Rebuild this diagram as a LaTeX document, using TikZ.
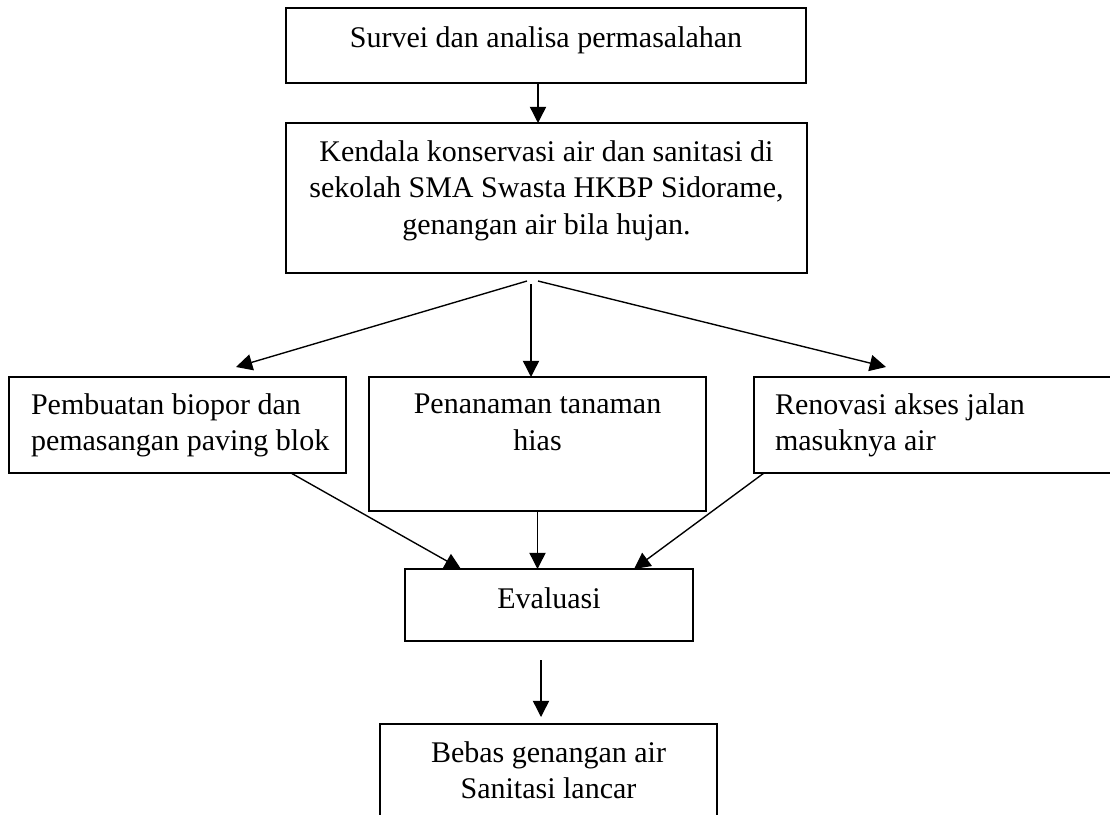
\documentclass[tikz,border=0pt]{standalone}
\usepackage{fontspec}
\setmainfont{Liberation Serif}
\usetikzlibrary{arrows.meta,calc}
\begin{document}
\begin{tikzpicture}[x=0.4pt,y=-0.4pt,
  box/.style={draw,line width=0.65pt,rectangle,inner sep=0pt,outer sep=0pt,anchor=north west},
  txt/.style={inner sep=0pt,outer sep=0pt,font=\fontsize{12}{14.6}\selectfont},
  arr/.style={line width=0.55pt,-{Triangle[length=6.5pt,width=6.5pt]}}]
\useasboundingbox (0,0) rectangle (1110,814);
\clip (0,0) rectangle (1110,814);
% boxes
\node[box,minimum width=520*0.4pt,minimum height=75*0.4pt] (b1) at (286,8) {};
\node[box,minimum width=521*0.4pt,minimum height=150*0.4pt] (b2) at (286,123) {};
\node[box,minimum width=337*0.4pt,minimum height=96*0.4pt] (bA) at (9,377) {};
\node[box,minimum width=337*0.4pt,minimum height=134*0.4pt] (bB) at (369,377) {};
\node[box,minimum width=400*0.4pt,minimum height=96*0.4pt] (bC) at (754,377) {};
\node[box,minimum width=288*0.4pt,minimum height=72*0.4pt] (bD) at (405,569) {};
\node[box,minimum width=337*0.4pt,minimum height=150*0.4pt] (bE) at (380,724) {};
% texts
\node[txt,anchor=north] (t1) at (546,26.5) {Survei dan analisa permasalahan};
\node[txt,anchor=north,align=center] (t2) at (546.5,140.5) {Kendala konservasi air dan sanitasi di\\sekolah SMA Swasta HKBP Sidorame,\\genangan air bila hujan.};
\node[txt,anchor=north west,align=left] (tA) at (31,393.5) {Pembuatan biopor dan\\pemasangan paving blok};
\node[txt,anchor=north,align=center] (tB) at (537.5,394) {Penanaman tanaman\\hias};
\node[txt,anchor=north west,align=left] (tC) at (775,393.5) {Renovasi akses jalan\\masuknya air};
\node[txt,anchor=north] (tD) at (549,587.5) {Evaluasi};
\node[txt,anchor=north,align=center] (tE) at (548.5,741.5) {Bebas genangan air\\Sanitasi lancar};
% arrows
\draw[arr] ($(b1.south west)+(252,0)$) -- ($(b2.north west)+(252,0)$);
\draw[arr] ($(b2.south west)+(241,8)$) -- ($(bA.north west)+(227,-10)$);
\draw[arr] ($(b2.south west)+(245,11)$) -- ($(bB.north west)+(162,0)$);
\draw[arr] ($(b2.south west)+(252,8)$) -- ($(bC.north west)+(132,-10)$);
\draw[arr] ($(bA.south west)+(282,0)$) -- ($(bD.north west)+(56,0)$);
\draw[arr] ($(bB.south west)+(168.5,0)$) -- ($(bD.north west)+(132.5,0)$);
\draw[arr] ($(bC.south west)+(10,0)$) -- ($(bD.north west)+(229,0)$);
\draw[arr] ($(bD.south west)+(136,19)$) -- ($(bE.north west)+(161,-7)$);
\end{tikzpicture}
\end{document}
